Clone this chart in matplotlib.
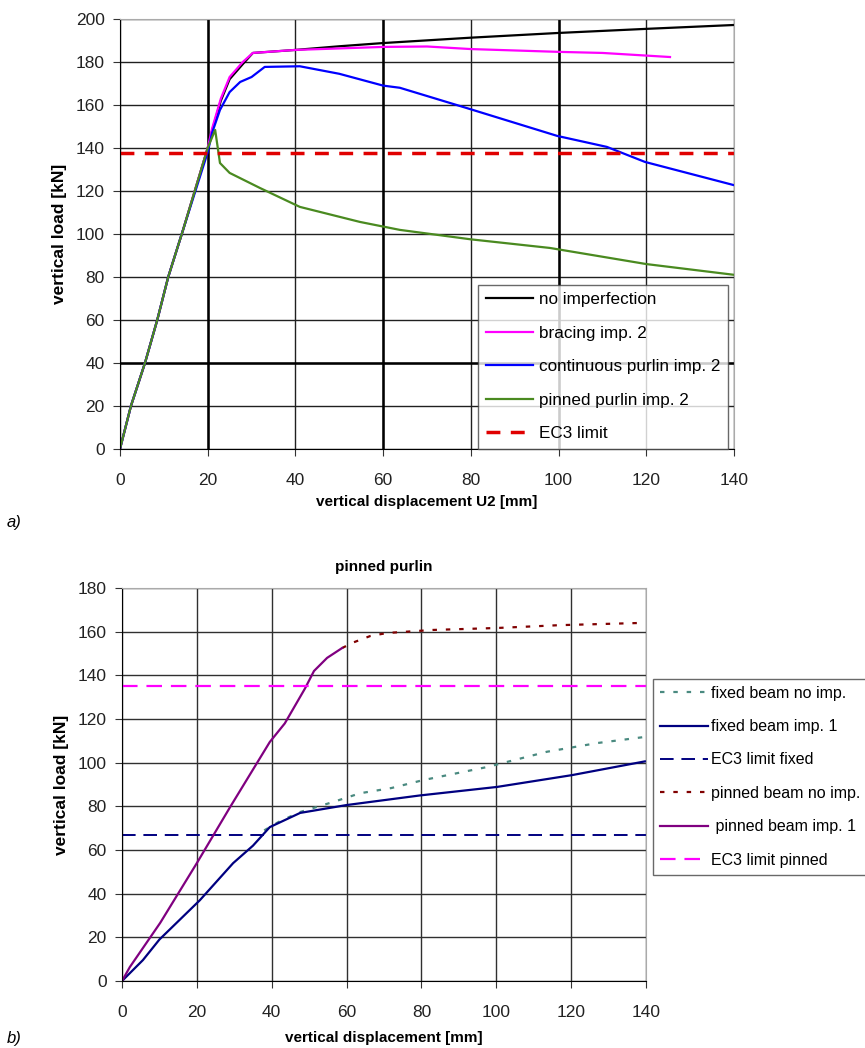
import matplotlib
matplotlib.use("Agg")
import matplotlib.pyplot as plt

plt.rcParams['font.family'] = ['Liberation Sans', 'DejaVu Sans']

# ---- chart a) ----
noimp_x = [0, 2.5, 5.7, 8.5, 11, 14.4, 20, 21, 23, 25, 28, 30.3, 40, 50, 60, 80, 100, 120, 140]
noimp_y = [0, 20, 40, 60, 80, 102, 140, 148, 162, 172, 179, 184.2, 185.6, 187.3, 188.8, 191.3, 193.5, 195.4, 197.2]
brac_x = [0, 2.5, 5.7, 8.5, 11, 14.4, 20, 21, 23, 25, 28, 30.3, 40, 50, 60, 70, 80, 100, 110, 125.4]
brac_y = [0, 20, 40, 60, 80, 102, 140, 149, 163, 173, 180, 184.2, 185.6, 186.3, 187, 187.2, 186, 184.7, 184.2, 182.3]
cont_x = [0, 2.5, 5.7, 8.5, 11, 14.4, 20, 21, 22.8, 25, 27.4, 30, 33, 41, 50, 60, 63.8, 79, 99.7, 111, 119.7, 139.8]
cont_y = [0, 20, 40, 60, 80, 102, 138, 147, 157.7, 166, 170.7, 173, 177.7, 178, 174.5, 169, 168, 158.6, 145.6, 140.5, 133.5, 122.8]
pin_x = [0, 2.5, 5.7, 8.5, 11, 14.4, 20, 21.7, 22.8, 25, 31.9, 41, 54.7, 63.8, 80, 98, 120, 140]
pin_y = [0, 20, 40, 60, 80, 102, 140, 148.4, 133, 128.4, 121.4, 112.6, 105.6, 101.9, 97.5, 93.5, 86, 81]
ec3_a = 137.5

# ---- chart b) ----
pb_imp_x = [0, 2.1, 10.2, 20, 28.9, 39.5, 43.5, 48.9, 51.3, 54.8, 58.8]
pb_imp_y = [0, 6.4, 26.6, 54, 79.7, 109.5, 118, 134, 142, 148, 152.5]
pb_no_x = [58.8, 61.7, 66.3, 70.8, 83, 100.2, 117, 138.4]
pb_no_y = [152.5, 155, 158, 159.4, 160.8, 161.7, 163, 164]
fb_imp_x = [0, 5.6, 10, 20.8, 29.7, 35, 39.5, 47.6, 60, 79.6, 100.2, 120.2, 139.7]
fb_imp_y = [0, 9.6, 19, 37, 54, 62, 70.5, 77, 80.6, 85, 88.9, 94.3, 100.6]
fb_no_x = [38, 42, 47.6, 56.4, 63.6, 72, 80.4, 97.5, 113.5, 127, 139.7]
fb_no_y = [69, 73, 77.4, 82, 86, 88.4, 92, 98, 105, 109, 111.8]
ec3_fixed = 67
ec3_pinned = 135

fig = plt.figure(figsize=(8.65, 10.48), dpi=100)

tick_fs = 12.5
lab_fs = 11
ylab_fs = 12.5


def style_axes(ax):
    ax.set_axisbelow(True)
    ax.tick_params(labelsize=tick_fs, length=5, color='#333333', labelcolor='#222222')
    ax.tick_params(axis='x', pad=12)
    ax.tick_params(axis='y', pad=6)
    for s in ax.spines.values():
        s.set_color('#aaaaaa')
    ax.spines['left'].set_color('black')
    ax.spines['bottom'].set_color('black')


# top chart
ax1 = fig.add_axes([0.1387, 0.5716, 0.7099, 0.4103])
ax1.plot(noimp_x, noimp_y, color='black', lw=1.6, label='no imperfection')
ax1.plot(brac_x, brac_y, color='#ff00ff', lw=1.6, label='bracing imp. 2')
ax1.plot(cont_x, cont_y, color='#0000ff', lw=1.6, label='continuous purlin imp. 2')
ax1.plot(pin_x, pin_y, color='#4a8a20', lw=1.6, label='pinned purlin imp. 2')
ax1.axhline(ec3_a, color='#e00000', lw=2.5, ls=(0, (4, 3)), label='EC3 limit')
ax1.set_xlim(0, 140)
ax1.set_ylim(0, 200)
ax1.set_xticks(range(0, 141, 20))
ax1.set_yticks(range(0, 201, 20))
ax1.grid(True, color='#202020', lw=1.0)
for x in (20, 60, 100):
    ax1.axvline(x, color='black', lw=1.8, zorder=0.6)
ax1.axhline(40, color='black', lw=1.8, zorder=0.6)
style_axes(ax1)
ax1.set_xlabel('vertical displacement U2 [mm]', fontsize=lab_fs, fontweight='bold', labelpad=5)
ax1.set_ylabel('vertical load [kN]', fontsize=ylab_fs, fontweight='bold', labelpad=6)
leg1 = ax1.legend(loc='lower right', bbox_to_anchor=(0.99, 0.0), borderaxespad=0, fontsize=12.3,
                  frameon=True, fancybox=False, edgecolor='#444444', handlelength=2.75,
                  handletextpad=0.35, labelspacing=1.08, borderpad=0.45)
leg1.get_frame().set_linewidth(1.0)
fig.text(0.008, 1 - 522 / 1048, 'a)', fontsize=12, style='italic', va='center')

# bottom chart
ax2 = fig.add_axes([0.141, 0.0639, 0.6058, 0.375])
ax2.plot(fb_no_x, fb_no_y, color='#4a8a80', lw=1.6, ls=(0, (2, 4)), label='fixed beam no imp.')
ax2.plot(fb_imp_x, fb_imp_y, color='#000080', lw=1.6, label='fixed beam imp. 1')
ax2.axhline(ec3_fixed, color='#000080', lw=1.4, ls=(0, (7, 4)), label='EC3 limit fixed')
ax2.plot(pb_no_x, pb_no_y, color='#800000', lw=1.6, ls=(0, (2, 4)), label='pinned beam no imp.')
ax2.plot(pb_imp_x, pb_imp_y, color='#800080', lw=1.6, label=' pinned beam imp. 1')
ax2.axhline(ec3_pinned, color='#ff00ff', lw=1.6, ls=(0, (7, 4)), label='EC3 limit pinned')
ax2.set_xlim(0, 140)
ax2.set_ylim(0, 180)
ax2.set_xticks(range(0, 141, 20))
ax2.set_yticks(range(0, 181, 20))
ax2.grid(True, color='#303030', lw=1.0)
style_axes(ax2)
ax2.set_title('pinned purlin', fontsize=lab_fs, fontweight='bold', pad=12)
ax2.set_xlabel('vertical displacement [mm]', fontsize=lab_fs, fontweight='bold', labelpad=8)
ax2.set_ylabel('vertical load [kN]', fontsize=ylab_fs, fontweight='bold', labelpad=6)
leg2 = ax2.legend(loc='center left', bbox_to_anchor=(1.0134, 0.52), borderaxespad=0, fontsize=11.5,
                  frameon=True, fancybox=False, edgecolor='#444444', handlelength=3.0,
                  handletextpad=0.2, labelspacing=1.15, borderpad=0.45)
leg2.get_frame().set_linewidth(1.0)
fig.text(0.008, 1 - 1038 / 1048, 'b)', fontsize=12, style='italic', va='center')

fig.savefig('out.png', dpi=100)
